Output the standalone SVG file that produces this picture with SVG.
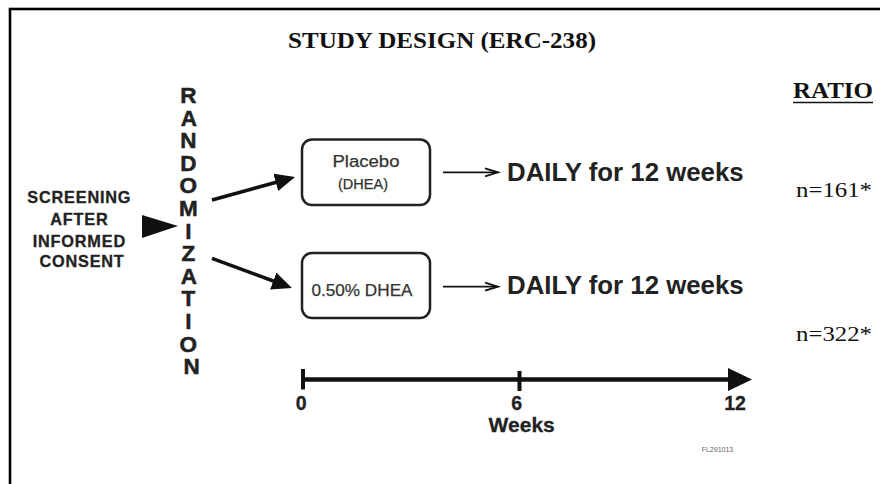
<svg xmlns="http://www.w3.org/2000/svg" width="880" height="484" viewBox="0 0 880 484">
<style>
.sans{font-family:"Liberation Sans",Arial,sans-serif;font-weight:bold;fill:#222}
.serif{font-family:"Liberation Serif","Times New Roman",serif;fill:#111}
.box{fill:#fff;stroke:#222;stroke-width:2.5}
.conn{stroke:#111;fill:none}
.heavy{stroke:#222;stroke-width:0.5}
</style>
<defs>
<marker id="head" viewBox="0 0 20 18" refX="10" refY="9" markerWidth="20" markerHeight="18" markerUnits="userSpaceOnUse" orient="auto">
<path d="M0,0 L20,9 L0,18 z" fill="#111"/>
</marker>
</defs>
<rect x="0" y="0" width="880" height="484" fill="#fff"/>
<rect x="10" y="9" width="900" height="520" fill="none" stroke="#000" stroke-width="2.6"/>

<g id="title">
<text class="serif" x="442" y="48" font-size="24" font-weight="bold" text-anchor="middle" textLength="308" lengthAdjust="spacingAndGlyphs">STUDY DESIGN (ERC-238)</text>
</g>

<g id="screening">
<text class="sans heavy" font-size="16.3" text-anchor="middle" letter-spacing="0.8" style="stroke-width:0.3">
<tspan x="82" y="203">SCREENING</tspan>
<tspan x="82" y="225">AFTER</tspan>
<tspan x="82" y="246.5">INFORMED</tspan>
<tspan x="82" y="266.5">CONSENT</tspan>
</text>
</g>

<g id="randomization">
<text class="sans heavy" font-size="22.5" text-anchor="middle">
<tspan x="191.5" y="103">R</tspan>
<tspan x="191.5" y="125.6">A</tspan>
<tspan x="191.5" y="148.2">N</tspan>
<tspan x="191.5" y="170.8">D</tspan>
<tspan x="191.5" y="193.4">O</tspan>
<tspan x="191.5" y="216">M</tspan>
<tspan x="191.5" y="238.6">I</tspan>
<tspan x="191.5" y="261.2">Z</tspan>
<tspan x="191.5" y="283.8">A</tspan>
<tspan x="191.5" y="306.4">T</tspan>
<tspan x="191.5" y="329">I</tspan>
<tspan x="191.5" y="351.6">O</tspan>
<tspan x="191.5" y="374.2">N</tspan>
</text>
</g>

<g id="placebo">
<rect class="box" x="302" y="139.5" width="128" height="65.5" rx="10"/>
<text class="sans" x="366" y="166.7" font-size="16" text-anchor="middle" textLength="67" lengthAdjust="spacingAndGlyphs" style="font-weight:normal;fill:#333;stroke:#333;stroke-width:0.25">Placebo</text>
<text class="sans" x="363" y="189.3" font-size="14" text-anchor="middle" textLength="50" lengthAdjust="spacingAndGlyphs" style="font-weight:normal;fill:#333;stroke:#333;stroke-width:0.25">(DHEA)</text>
</g>

<g id="dhea">
<rect class="box" x="302" y="253" width="128" height="65" rx="10"/>
<text class="sans" x="362" y="295.7" font-size="16.5" text-anchor="middle" textLength="101" lengthAdjust="spacingAndGlyphs" style="font-weight:normal;fill:#333;stroke:#333;stroke-width:0.25">0.50% DHEA</text>
</g>

<g id="daily1">
<text class="sans" x="507" y="180.7" font-size="25.8">DAILY for 12 weeks</text>
</g>
<g id="daily2">
<text class="sans" x="507" y="294.3" font-size="25.8">DAILY for 12 weeks</text>
</g>

<g id="ratio">
<text class="serif" x="793" y="98" font-size="23" font-weight="bold" textLength="80" lengthAdjust="spacingAndGlyphs">RATIO</text>
<line x1="793" y1="102.5" x2="873" y2="102.5" stroke="#111" stroke-width="1.6"/>
<text class="serif" x="796" y="197" font-size="20" textLength="76" lengthAdjust="spacingAndGlyphs">n=161*</text>
<text class="serif" x="796" y="341" font-size="20" textLength="76" lengthAdjust="spacingAndGlyphs">n=322*</text>
</g>

<g id="timeline">
<line x1="303" y1="379.5" x2="730" y2="379.5" stroke="#111" stroke-width="4.5"/>
<polygon points="728,368 752,379.5 728,391" fill="#111"/>
<line x1="303" y1="369" x2="303" y2="389.5" stroke="#111" stroke-width="4"/>
<line x1="519.5" y1="371" x2="519.5" y2="391" stroke="#111" stroke-width="4"/>
<text class="sans heavy" font-size="19.5" text-anchor="middle" style="stroke-width:0.3">
<tspan x="304" y="410">0</tspan>
<tspan x="519.5" y="410">6</tspan>
<tspan x="735" y="410">12</tspan>
</text>
<text class="sans heavy" x="521.7" y="431.7" font-size="21" text-anchor="middle" style="stroke-width:0.3">Weeks</text>
<text x="701.7" y="451.7" font-family="Liberation Sans, Arial, sans-serif" font-size="7" fill="#666">FL291013</text>
</g>

<g id="connectors">
<polygon points="142,215 178,226 142,238" fill="#111"/>
<line class="conn" x1="212" y1="200" x2="285.4" y2="179.7" stroke-width="3.5" marker-end="url(#head)"/>
<line class="conn" x1="212" y1="258.3" x2="282.6" y2="284.5" stroke-width="3.5" marker-end="url(#head)"/>
<line class="conn" x1="443" y1="172.3" x2="497" y2="172.3" stroke-width="1.8"/>
<polyline class="conn" points="485,168.3 498,172.3 485,176.3" stroke-width="1.8"/>
<line class="conn" x1="443" y1="286.7" x2="497" y2="286.7" stroke-width="1.8"/>
<polyline class="conn" points="485,282.7 498,286.7 485,290.7" stroke-width="1.8"/>
</g>
</svg>
